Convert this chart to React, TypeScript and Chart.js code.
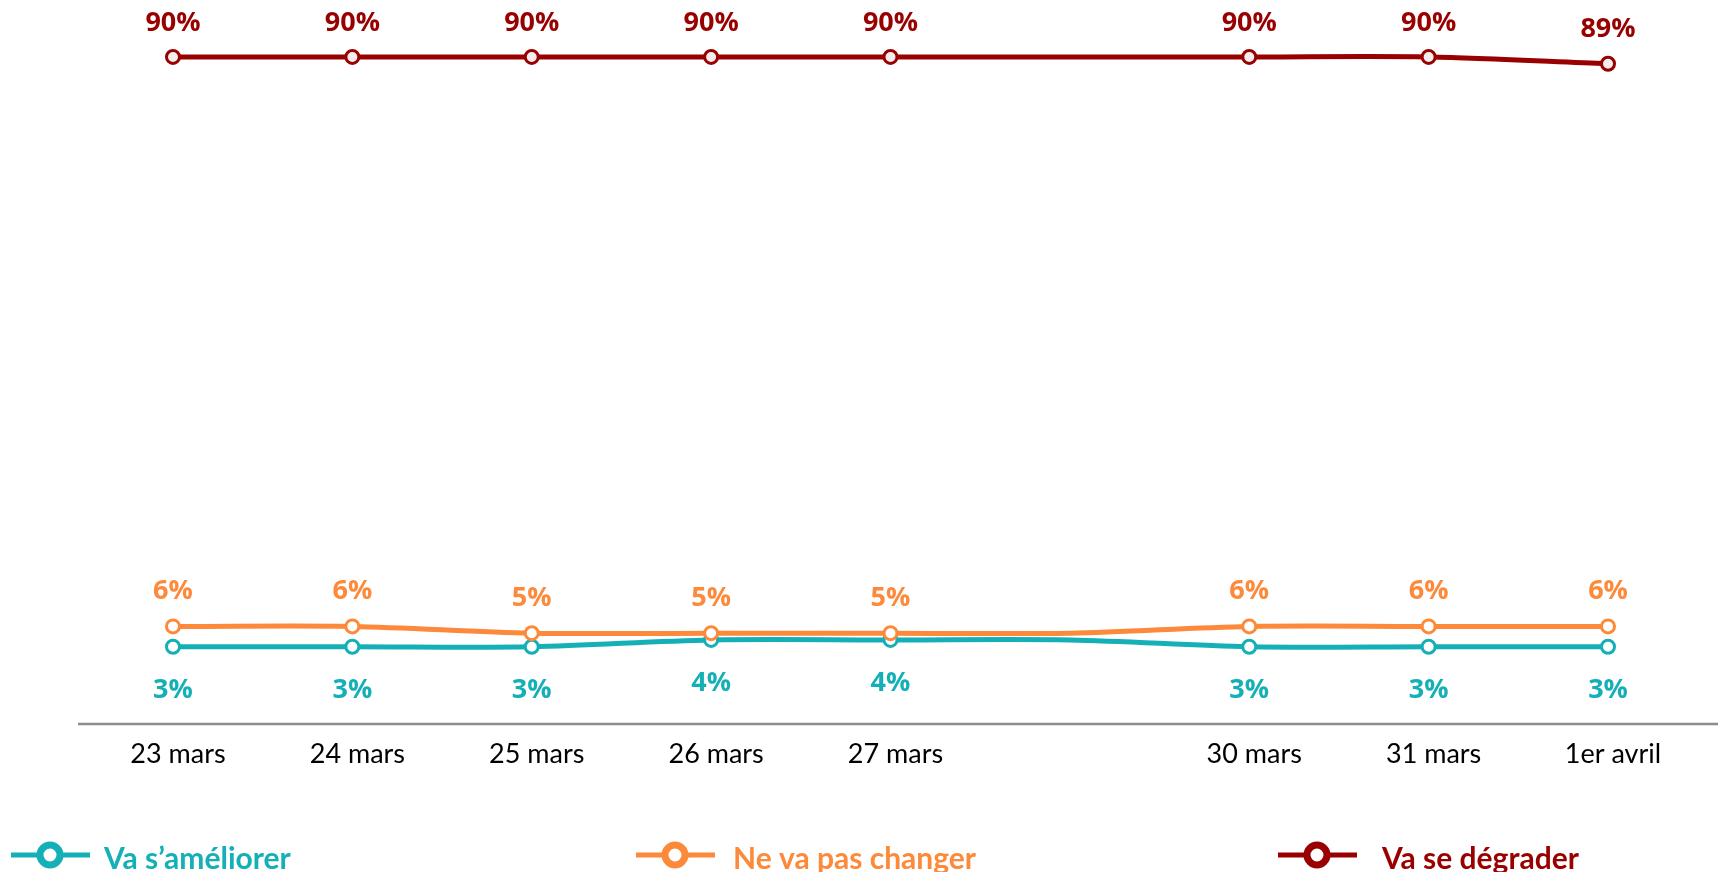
import React, { useEffect, useRef } from 'react';
import { Chart, registerables } from 'chart.js';

Chart.register(...registerables);

// Categories (the unlabeled slot is the 28 mars point, drawn without marker or label)
const categories = ['23 mars', '24 mars', '25 mars', '26 mars', '27 mars', '', '30 mars', '31 mars', '1er avril'];

// Series values (%)
const vaSAmeliorer = [3, 3, 3, 4, 4, 4, 3, 3, 3];
const neVaPasChanger = [6, 6, 5, 5, 5, 5, 6, 6, 6];
const vaSeDegrader = [90, 90, 90, 90, 90, 90, 90, 90, 89];

const seriesNames = ['Va s’améliorer', 'Ne va pas changer', 'Va se dégrader'];

const CYAN = '#15b0b7';
const ORANGE = '#fc8a3a';
const RED = '#990000';

const axisLine = {
  id: 'axisLine',
  beforeDatasetsDraw(chart: any, _args: any, opts: any) {
    const { ctx, chartArea } = chart;
    ctx.save();
    ctx.strokeStyle = opts.color;
    ctx.lineWidth = opts.width;
    ctx.beginPath();
    ctx.moveTo(opts.from, chartArea.bottom);
    ctx.lineTo(opts.to, chartArea.bottom);
    ctx.stroke();
    ctx.restore();
  },
};

const valueLabels = {
  id: 'valueLabels',
  afterDatasetsDraw(chart: any, _args: any, opts: any) {
    const { ctx } = chart;
    chart.data.datasets.forEach((ds: any, di: number) => {
      const meta = chart.getDatasetMeta(di);
      const off = opts.offsets[di];
      ctx.save();
      ctx.font = opts.font;
      ctx.fillStyle = ds.borderColor;
      ctx.textAlign = 'center';
      ctx.textBaseline = 'middle';
      meta.data.forEach((pt: any, i: number) => {
        if (!chart.data.labels[i]) return;
        const v = ds.data[i];
        ctx.fillText(v + '%', pt.x, pt.y + off);
      });
      ctx.restore();
    });
  },
};

const lineLegend = {
  id: 'lineLegend',
  afterDraw(chart: any, _args: any, opts: any) {
    const { ctx } = chart;
    chart.data.datasets.forEach((ds: any, i: number) => {
      const x0 = opts.starts[i];
      const y = opts.y;
      ctx.save();
      ctx.strokeStyle = ds.borderColor;
      ctx.lineWidth = 5;
      ctx.beginPath();
      ctx.moveTo(x0, y);
      ctx.lineTo(x0 + 79, y);
      ctx.stroke();
      ctx.beginPath();
      ctx.arc(x0 + 39, y, 10, 0, Math.PI * 2);
      ctx.fillStyle = '#ffffff';
      ctx.fill();
      ctx.lineWidth = 7;
      ctx.stroke();
      ctx.font = opts.font;
      ctx.fillStyle = ds.borderColor;
      ctx.textAlign = 'left';
      ctx.textBaseline = 'alphabetic';
      ctx.fillText(ds.label, opts.textStarts[i], opts.baseline);
      ctx.restore();
    });
  },
};

export default function App() {
  const ref = useRef<HTMLCanvasElement | null>(null);

  useEffect(() => {
    if (!ref.current) return;
    const radius = (c: any) => (categories[c.dataIndex] ? 6.5 : 0);
    const mk = (label: string, data: number[], color: string, fill: string, order: number) => ({
      label,
      data,
      borderColor: color,
      backgroundColor: color,
      borderWidth: 5,
      tension: 0.33,
      pointRadius: radius,
      pointBorderWidth: 3,
      pointBorderColor: color,
      pointBackgroundColor: fill,
      clip: false as any,
      order,
    });
    const chart = new Chart(ref.current, {
      type: 'line',
      data: {
        labels: categories,
        datasets: [
          mk(seriesNames[0], vaSAmeliorer, CYAN, '#ffffff', 2),
          mk(seriesNames[1], neVaPasChanger, ORANGE, '#ffffff', 1),
          mk(seriesNames[2], vaSeDegrader, RED, '#f3eded', 0),
        ],
      },
      options: {
        responsive: false,
        animation: false,
        events: [],
        layout: { autoPadding: false, padding: { left: 83.3, right: 27.3, top: 0, bottom: 0 } },
        plugins: {
          legend: { display: false },
          tooltip: { enabled: false },
          axisLine: { color: '#8c8c8c', width: 2.5, from: 78, to: 1718 },
          valueLabels: { offsets: [43.5, -35, -34], font: 'bold 27px "Open Sans"' },
          lineLegend: {
            starts: [11, 636, 1278],
            textStarts: [104, 733, 1382],
            y: 855,
            baseline: 869,
            font: 'bold 30px Lato',
          },
        } as any,
        scales: {
          x: {
            offset: true,
            grid: { display: false, drawTicks: false },
            border: { display: false },
            ticks: {
              font: { family: 'Lato', size: 27 },
              color: '#000000',
              padding: 14,
              labelOffset: 5,
              maxRotation: 0,
              autoSkip: false,
            },
            afterFit: (s: any) => {
              s.height = 148;
            },
          },
          y: { display: false, min: -8.4, max: 98.4 },
        },
      },
      plugins: [axisLine, valueLabels, lineLegend],
    });
    return () => chart.destroy();
  }, []);

  return (
    <div
      style={{
        position: 'fixed',
        left: 0,
        top: 0,
        width: 1725,
        height: 872,
        overflow: 'hidden',
        background: '#ffffff',
      }}
    >
      <canvas ref={ref} width={1725} height={872} style={{ display: 'block', width: 1725, height: 872 }} />
    </div>
  );
}
